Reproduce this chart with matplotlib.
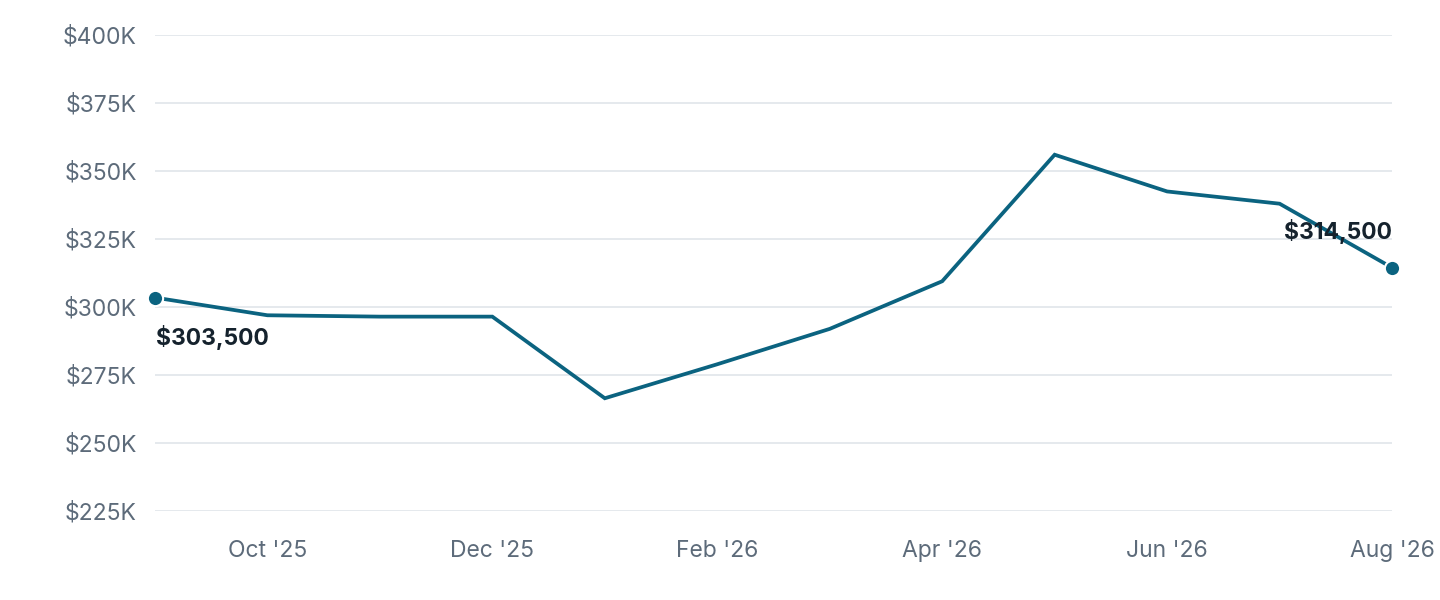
import numpy as np
import matplotlib
matplotlib.use("Agg")
import matplotlib.pyplot as plt
from matplotlib.ticker import FuncFormatter

# ── data ──────────────────────────────────────
months = ["Sep '25", "Oct '25", "Nov '25", "Dec '25", "Jan '26", "Feb '26",
          "Mar '26", "Apr '26", "May '26", "Jun '26", "Jul '26", "Aug '26"]
prices = [303500, 297000, 296500, 296500, 266500, 279000,
          292000, 309500, 356000, 342500, 338000, 314500]
tick_months = ["Oct '25", "Dec '25", "Feb '26", "Apr '26", "Jun '26", "Aug '26"]
y_ticks = [225000, 250000, 275000, 300000, 325000, 350000, 375000, 400000]

LINE = "#0b6380"
GRID = "#e3e7ec"
TICK = "#5d6b7a"
LABEL = "#15222d"

plt.rcParams["font.family"] = ["Inter", "DejaVu Sans"]

x = np.arange(len(months))

fig = plt.figure(figsize=(14.4, 6), dpi=100)
ax = fig.add_axes([0.1076, 0.148, 0.8591, 0.7937])

ax.plot(x, prices, color=LINE, lw=2.7, solid_joinstyle="miter", zorder=3)
ends = [0, len(x) - 1]
ax.plot(x[ends], [prices[i] for i in ends], "o", color=LINE, ms=11,
        mec="white", mew=1.5, zorder=4, clip_on=False)

# end-point labels
ax.annotate(f"${prices[0]:,}", (x[0], prices[0]), xytext=(1, -29),
            textcoords="offset points", ha="left", va="center",
            fontsize=16.5, fontweight="bold", color=LABEL, zorder=5)
ax.annotate(f"${prices[-1]:,}", (x[-1], prices[-1]), xytext=(0, 26),
            textcoords="offset points", ha="right", va="center",
            fontsize=16.5, fontweight="bold", color=LABEL, zorder=5)

ax.set_xlim(0, len(x) - 1)
ax.set_ylim(y_ticks[0], y_ticks[-1])
ax.set_yticks(y_ticks)
ax.yaxis.set_major_formatter(FuncFormatter(lambda v, _: f"${v / 1000:.0f}K"))
ax.set_xticks([months.index(m) for m in tick_months])
ax.set_xticklabels(tick_months)

ax.grid(axis="y", color=GRID, lw=1.3, zorder=0)
for s in ax.spines.values():
    s.set_visible(False)
ax.tick_params(axis="both", length=0, labelsize=16.5, labelcolor=TICK)
ax.tick_params(axis="x", pad=21)
ax.tick_params(axis="y", pad=13)

fig.savefig("out.png", dpi=100, facecolor="white")
